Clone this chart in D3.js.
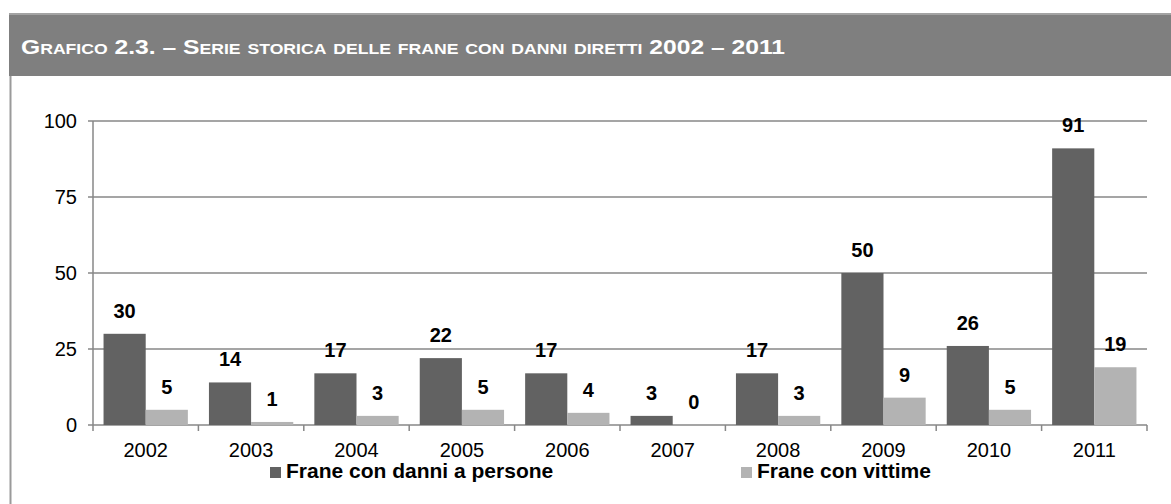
<!DOCTYPE html>
<html>
<head>
<meta charset="utf-8">
<script src="https://cdn.jsdelivr.net/npm/d3@7"></script>
<style>
  body { margin: 0; background: #fff; }
  svg { display: block; font-family: "Liberation Sans", Arial, sans-serif; }
</style>
</head>
<body>
<div id="chart"></div>
<script>
// dati del grafico
const anni = ["2002", "2003", "2004", "2005", "2006", "2007", "2008", "2009", "2010", "2011"];
const serie = ["Frane con danni a persone", "Frane con vittime"];
const franeDanni = [30, 14, 17, 22, 17, 3, 17, 50, 26, 91];
const franeVittime = [5, 1, 3, 5, 4, 0, 3, 9, 5, 19];
const yTicks = [0, 25, 50, 75, 100];
const colori = ["#626262", "#b3b3b3"];

const width = 1171;
const height = 504;

const svg = d3.select("#chart")
    .append("svg")
    .attr("width", width)
    .attr("height", height);

// cornice e intestazione
svg.append("line")
    .attr("x1", 10.5).attr("x2", 10.5)
    .attr("y1", 14).attr("y2", height)
    .attr("stroke", "#9a9a9a")
    .attr("stroke-width", 2);

svg.append("rect")
    .attr("x", 9).attr("y", 13)
    .attr("width", width - 9).attr("height", 63)
    .attr("fill", "#7f7f7f");

svg.append("rect")
    .attr("x", 9).attr("y", 13)
    .attr("width", width - 9).attr("height", 2)
    .attr("fill", "#a3a3a3");

svg.append("text")
    .attr("x", 21)
    .attr("y", 54)
    .attr("fill", "#fff")
    .attr("font-weight", "bold")
    .attr("font-size", 21)
    .style("font-variant", "small-caps")
    .attr("textLength", 764)
    .attr("lengthAdjust", "spacingAndGlyphs")
    .text("Grafico 2.3. – Serie storica delle frane con danni diretti 2002 – 2011");

// scale
const x0 = d3.scaleBand()
    .domain(anni)
    .range([93, 1147]);

const x1 = d3.scaleBand()
    .domain(serie)
    .range([x0.bandwidth() * 0.1, x0.bandwidth() * 0.9]);

const y = d3.scaleLinear()
    .domain([0, 100])
    .range([425, 121]);

// griglia
svg.append("g")
    .selectAll("line")
    .data(yTicks)
    .enter().append("line")
    .attr("x1", 88)
    .attr("x2", 1147)
    .attr("y1", d => y(d))
    .attr("y2", d => y(d))
    .attr("stroke", "#878787")
    .attr("stroke-width", 1.5);

// asse y
svg.append("line")
    .attr("x1", 93).attr("x2", 93)
    .attr("y1", y(100)).attr("y2", y(0))
    .attr("stroke", "#878787")
    .attr("stroke-width", 1.5);

svg.append("g")
    .selectAll("text")
    .data(yTicks)
    .enter().append("text")
    .attr("x", 77)
    .attr("y", d => y(d))
    .attr("dy", "0.36em")
    .attr("text-anchor", "end")
    .attr("font-size", 20)
    .attr("fill", "#000")
    .text(d => d);

// tacche asse x
svg.append("g")
    .selectAll("line")
    .data(anni.map(a => x0(a)).concat([x0.range()[1]]))
    .enter().append("line")
    .attr("x1", d => d)
    .attr("x2", d => d)
    .attr("y1", y(0))
    .attr("y2", y(0) + 6)
    .attr("stroke", "#878787")
    .attr("stroke-width", 1.5);

// barre
const righe = anni.map((a, i) => ({ anno: a, valori: [franeDanni[i], franeVittime[i]] }));

const gruppi = svg.append("g")
    .selectAll("g")
    .data(righe)
    .enter().append("g")
    .attr("transform", d => `translate(${x0(d.anno)},0)`);

gruppi.selectAll("rect")
    .data(d => d.valori.map((v, j) => ({ serie: serie[j], valore: v, j: j })))
    .enter().append("rect")
    .attr("x", d => x1(d.serie))
    .attr("y", d => y(d.valore))
    .attr("width", x1.bandwidth())
    .attr("height", d => y(0) - y(d.valore))
    .attr("fill", d => colori[d.j]);

// etichette dei valori
gruppi.selectAll("text")
    .data(d => d.valori.map((v, j) => ({ serie: serie[j], valore: v })))
    .enter().append("text")
    .attr("x", d => x1(d.serie) + x1.bandwidth() / 2)
    .attr("y", d => y(d.valore) - 16)
    .attr("text-anchor", "middle")
    .attr("font-size", 20)
    .attr("font-weight", "bold")
    .attr("fill", "#000")
    .text(d => d.valore);

// etichette asse x
svg.append("g")
    .selectAll("text")
    .data(anni)
    .enter().append("text")
    .attr("x", d => x0(d) + x0.bandwidth() / 2)
    .attr("y", 457)
    .attr("text-anchor", "middle")
    .attr("font-size", 20)
    .attr("fill", "#000")
    .text(d => d);

// legenda
const legendaX = [270, 741];
const legenda = svg.append("g")
    .selectAll("g")
    .data(serie)
    .enter().append("g")
    .attr("transform", (d, i) => `translate(${legendaX[i]},467)`);

legenda.append("rect")
    .attr("width", 11)
    .attr("height", 11)
    .attr("fill", (d, i) => colori[i]);

legenda.append("text")
    .attr("x", 16)
    .attr("y", 11)
    .attr("font-size", 21)
    .attr("font-weight", "bold")
    .attr("fill", "#000")
    .text(d => d);
</script>
</body>
</html>
